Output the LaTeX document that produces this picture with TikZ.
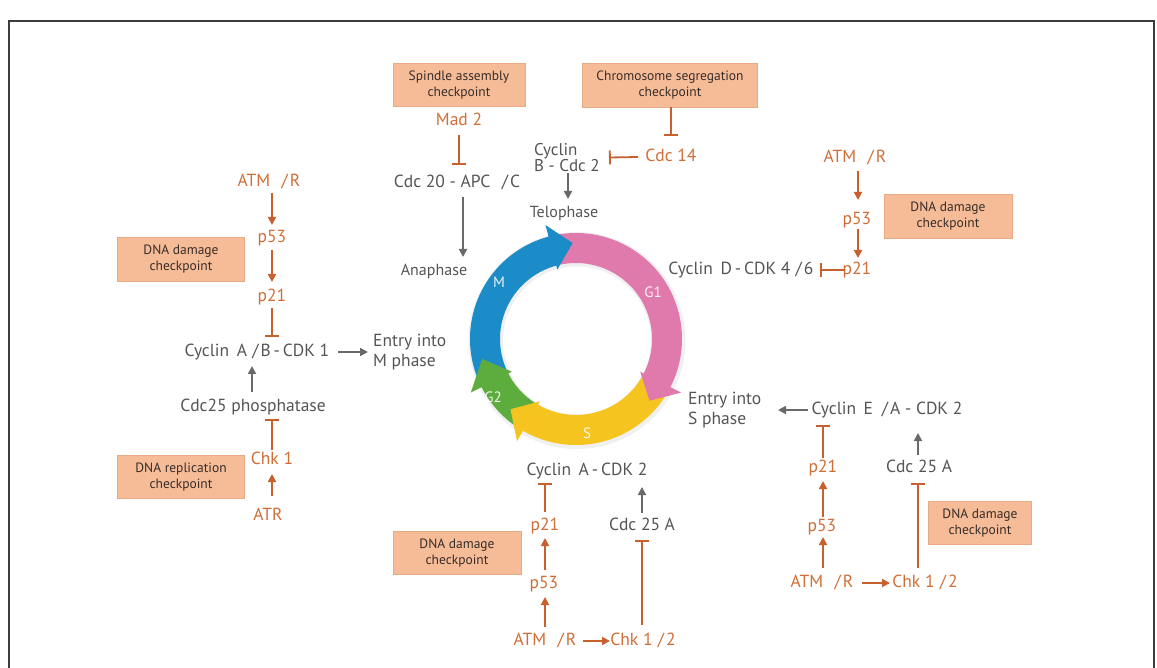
\documentclass[tikz,border=0pt]{standalone}
\usepackage{fontspec}
\setmainfont{PT Sans}
\usetikzlibrary{arrows.meta,calc}

\definecolor{ora}{RGB}{208,110,55}
\definecolor{oraline}{RGB}{200,96,46}
\definecolor{gtext}{RGB}{85,85,85}
\definecolor{gline}{RGB}{105,105,105}
\definecolor{boxfill}{RGB}{246,188,152}
\definecolor{boxedge}{RGB}{232,170,132}
\definecolor{boxtext}{RGB}{55,45,40}
\definecolor{cM}{RGB}{28,140,200}
\definecolor{cGone}{RGB}{224,122,172}
\definecolor{cS}{RGB}{245,196,30}
\definecolor{cGtwo}{RGB}{92,172,62}
\definecolor{frame}{RGB}{60,60,60}

% slash with the wide spacing used in the complex names
\newcommand\wsl{\hspace{0.3em}/\hspace{0.12em}}

% ring segment body: colour, start angle, end angle (slightly inside the head)
\newcommand\cycseg[3]{%
  \fill[#1] ($(C)+(#2:106pt)$) arc[start angle=#2,end angle=#3,radius=106pt]
    -- ($(C)+(#3:76pt)$) arc[start angle=#3,end angle=#2,radius=76pt] -- cycle;}
% ring segment head: colour, base angle, tip angle
\newcommand\cychead[3]{%
  \fill[#1] ($(C)+(#2:118pt)$) -- ($(C)+(#3:96pt)$) -- ($(C)+(#2:72pt)$) -- cycle;}

\tikzset{
  lab/.style={inner sep=0pt, font=\fontsize{17.5}{20}\selectfont, text height=12pt, text depth=3pt},
  glab/.style={lab, text=gtext},
  olab/.style={lab, text=ora},
  slab/.style={glab, font=\fontsize{16}{19}\selectfont},
  mlab/.style={inner sep=0pt, font=\fontsize{17.5}{19.5}\selectfont, text=gtext, align=left, anchor=west},
  cbox/.style={fill=boxfill, draw=boxedge, line width=0.6pt, inner sep=0pt, align=center,
    font=\fontsize{13.5}{15.5}\selectfont, text=boxtext},
  garr/.style={draw=gline, line width=1.8pt, -{Triangle[length=8pt,width=8pt]}},
  oarr/.style={draw=oraline, line width=1.8pt, -{Triangle[length=8pt,width=8pt]}},
  obar/.style={draw=oraline, line width=1.8pt, -{Bar[width=14pt]}},
  phase/.style={font=\fontsize{15}{18}\selectfont, text=white, opacity=0.9}
}

\begin{document}
\begin{tikzpicture}[x=1pt,y=1pt]
\useasboundingbox (0,0) rectangle (1157,-668);
\fill[white] (0,0) rectangle (1157,-668);

% outer frame
\draw[frame, line width=1.6pt] (9,-690) -- (9,-21) -- (1154,-21) -- (1154,-690);

% ---------- cell cycle ring ----------
\coordinate (C) at (576,-339);
\fill[black, opacity=0.06, even odd rule] ($(C)+(1,-1.5)$) circle[radius=108.5pt] ($(C)+(1,-1.5)$) circle[radius=74pt];
\cycseg{cM}{206}{103.5}
\cycseg{cGone}{104}{-28.5}
\cycseg{cS}{-28}{-121.5}
\cycseg{cGtwo}{-121}{-154.5}
\cychead{cM}{105}{92}
\cychead{cGone}{-27}{-40}
\cychead{cS}{-120}{-133}
\cychead{cGtwo}{-153}{-168}
\node[phase] (phM) at (499,-282) {M};
\node[phase] (phGone) at (653,-292) {G1};
\node[phase] (phS) at (587,-433) {S};
\node[phase] (phGtwo) at (493,-397) {G2};

% ---------- checkpoint boxes ----------
\node[cbox, minimum width=132pt, minimum height=43pt] (bSpindle) at (459,-85) {Spindle assembly\\checkpoint};
\node[cbox, minimum width=175pt, minimum height=44pt] (bChrom) at (670,-85) {Chromosome segregation\\checkpoint};
\node[cbox, minimum width=127pt, minimum height=44pt] (bDnaL) at (181,-259) {DNA damage\\checkpoint};
\node[cbox, minimum width=127pt, minimum height=43pt] (bRep) at (181,-477) {DNA replication\\checkpoint};
\node[cbox, minimum width=128pt, minimum height=44pt] (bDnaTR) at (948,-216) {DNA damage\\checkpoint};
\node[cbox, minimum width=128pt, minimum height=43pt] (bDnaB) at (457,-553) {DNA damage\\checkpoint};
\node[cbox, minimum width=103pt, minimum height=43pt] (bDnaBR) at (980,-523) {DNA damage\\checkpoint};

% ---------- top: mitosis exit ----------
\node[olab] (mad2) at (459,-121) {Mad 2};
\node[glab] (cdc20) at (457,-183) {Cdc 20 - APC\hspace{0.35em}\wsl C};
\node[slab] (ana) at (434,-271) {Anaphase};
\node[mlab, font=\fontsize{17}{15}\selectfont] (cycB) at (534,-157.5) {Cyclin\\B - Cdc 2};
\node[slab] (telo) at (564,-213) {Telophase};
\node[olab] (cdc14) at (671,-157) {Cdc 14};

\draw[obar] ($(mad2)+(0,-14)$) -- ($(cdc20)+(2,18)$);
\draw[garr] ($(cdc20)+(6,-14)$) -- ($(ana)+(29,14)$);
\draw[obar] (bChrom.south -| cdc14) -- ($(cdc14)+(0,21)$);
\draw[obar] ($(cdc14)+(-33,0)$) -- ($(cycB.west)+(75,0)$);
\draw[garr] ($(cycB.west)+(34,-16)$) -- ($(telo)+(4,14)$);

% ---------- left: G2/M ----------
\node[olab] (atmL) at (269,-182) {ATM\hspace{0.35em}\wsl R};
\node[olab] (p53L) at (272,-238) {p53};
\node[olab] (p21L) at (272,-297) {p21};
\node[glab] (cycAB) at (257,-352) {Cyclin\, A\wsl B\,-\,CDK 1};
\node[mlab] (entM) at (373,-352) {Entry into\\M phase};
\node[glab] (cdc25p) at (253,-407) {Cdc25 phosphatase};
\node[olab] (chk1) at (272,-460) {Chk 1};
\node[olab] (atr) at (268,-516) {ATR};

\draw[oarr] ($(atmL)+(3,-11)$) -- ($(p53L)+(0,13)$);
\draw[oarr] ($(p53L)+(0,-12)$) -- ($(p21L)+(0,15)$);
\draw[obar] ($(p21L)+(0,-11)$) -- ($(cycAB)+(15,15)$);
\draw[garr] ($(cycAB)+(81,0)$) -- ($(entM.west)+(-5,0)$);
\draw[garr] ($(cdc25p)+(-1,15)$) -- ($(cycAB)+(-5,-14)$);
\draw[obar] ($(chk1)+(0,10)$) -- ($(cdc25p)+(19,-12)$);
\draw[oarr] ($(atr)+(4,20)$) -- ($(chk1)+(0,-14)$);

% ---------- right top: G1 ----------
\node[olab] (atmTR) at (855,-158) {ATM\hspace{0.35em}\wsl R};
\node[olab] (p53TR) at (857,-220) {p53};
\node[olab] (p21TR) at (857,-270) {p21};
\node[glab] (cycD) at (741,-270) {Cyclin\, D\,-\,CDK 4\wsl 6};

\draw[oarr] ($(atmTR)+(3,-13)$) -- ($(p53TR)+(1,20)$);
\draw[oarr] ($(p53TR)+(1,-9)$) -- ($(p21TR)+(1,12)$);
\draw[obar] ($(p21TR)+(-12,0)$) -- ($(cycD)+(79,0)$);

% ---------- right bottom: G1/S ----------
\node[mlab] (entS) at (688,-410) {Entry into\\S phase};
\node[glab] (cycEA) at (887,-410) {Cyclin\, E\hspace{0.2em}\wsl A - CDK 2};
\node[glab] (cdc25aR) at (919,-468) {Cdc 25 A};
\node[olab] (p21R) at (823,-468) {p21};
\node[olab] (p53R) at (822,-527) {p53};
\node[olab] (atmR) at (822,-583) {ATM\hspace{0.35em}\wsl R};
\node[olab] (chkR) at (925,-583) {Chk 1\wsl 2};

\draw[garr] ($(cycEA)+(-79,0)$) -- ($(entS.west)+(90,0)$);
\draw[obar] ($(p21R)+(0,10)$) -- ($(cycEA)+(-64,-15)$);
\draw[oarr] ($(p53R)+(1,10)$) -- ($(p21R)+(0,-13)$);
\draw[oarr] ($(atmR)+(1,15)$) -- ($(p53R)+(1,-10)$);
\draw[oarr] ($(atmR)+(40,0)$) -- ($(chkR)+(-35,0)$);
\draw[obar] ($(chkR)+(-7,15)$) -- ($(cdc25aR)+(-1,-15)$);
\draw[garr] ($(cdc25aR)+(-1,13)$) -- ($(cycEA)+(31,-23)$);

% ---------- bottom: S phase ----------
\node[glab] (cycA) at (587,-471) {Cyclin\, A\,-\,CDK 2};
\node[glab] (cdc25aB) at (642,-526) {Cdc 25 A};
\node[olab] (p21B) at (545,-526) {p21};
\node[olab] (p53B) at (544,-584) {p53};
\node[olab] (atmB) at (545,-641) {ATM\hspace{0.35em}\wsl R};
\node[olab] (chkB) at (643,-641) {Chk 1\wsl 2};

\draw[obar] ($(p21B)+(0,14)$) -- ($(cycA)+(-42,-12)$);
\draw[oarr] ($(p53B)+(1,14)$) -- ($(p21B)+(0,-12)$);
\draw[oarr] ($(atmB)+(0,14)$) -- ($(p53B)+(1,-13)$);
\draw[oarr] ($(atmB)+(38,0)$) -- ($(chkB)+(-33,0)$);
\draw[obar] ($(chkB)+(-1,16)$) -- ($(cdc25aB)+(0,-14)$);
\draw[garr] ($(cdc25aB)+(0,13)$) -- ($(cycA)+(55,-16)$);
\end{tikzpicture}
\end{document}
